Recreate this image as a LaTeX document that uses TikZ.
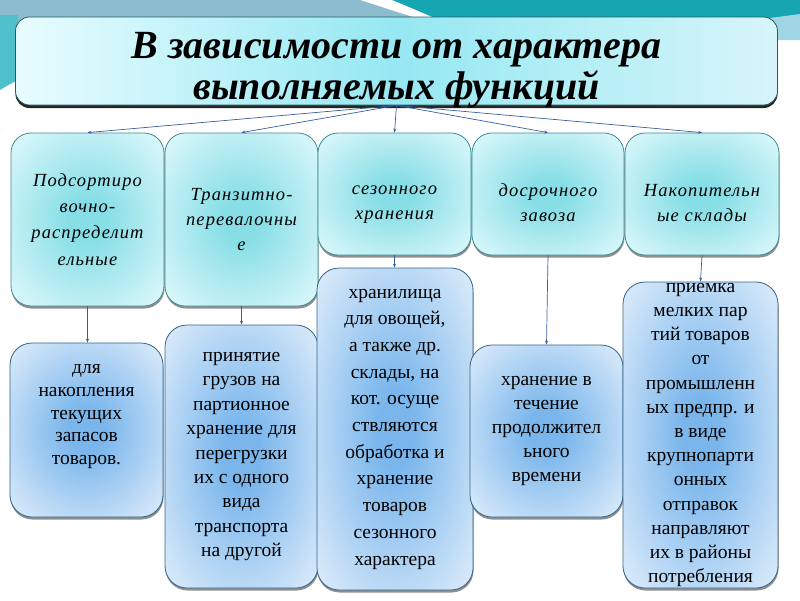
\documentclass[tikz,border=0pt]{standalone}
\usepackage{fontspec}
\setmainfont{Liberation Serif}
\usetikzlibrary{shadows,arrows.meta}
\definecolor{bgl}{RGB}{140,188,206}
\definecolor{bgteal}{RGB}{22,166,178}
\definecolor{bgside}{RGB}{80,192,204}
\definecolor{bgr}{RGB}{160,214,228}
\definecolor{titlel}{RGB}{232,252,255}
\definecolor{titlem}{RGB}{150,232,242}
\definecolor{titler}{RGB}{215,245,250}
\definecolor{titleb}{RGB}{40,90,95}
\definecolor{topin}{RGB}{135,222,230}
\definecolor{topout}{RGB}{226,250,252}
\definecolor{topborder}{RGB}{60,140,150}
\definecolor{botin}{RGB}{122,182,236}
\definecolor{botout}{RGB}{232,242,252}
\definecolor{botborder}{RGB}{50,100,140}
\definecolor{conncol}{RGB}{55,95,155}
\pgfdeclareradialshading{topshade}{\pgfpointorigin}{color(0bp)=(topin); color(6bp)=(topin); color(36bp)=(topout); color(50bp)=(topout)}
\pgfdeclareradialshading{botshade}{\pgfpointorigin}{color(0bp)=(botin); color(6bp)=(botin); color(38bp)=(botout); color(50bp)=(botout)}
\begin{document}
\begin{tikzpicture}[x=1pt,y=-1pt,
  titlebox/.style={draw=titleb, line width=0.8pt, rounded corners=14pt,
    left color=titlel, right color=titler, middle color=titlem,
    drop shadow={shadow xshift=0pt, shadow yshift=-3pt, opacity=0.85, fill=black},
    inner sep=0pt},
  titletext/.style={align=center, inner sep=0pt,
    font=\fontsize{40}{41}\selectfont\bfseries\itshape},
  topbox/.style={draw=topborder, line width=0.8pt, rounded corners=20pt,
    shading=topshade,
    drop shadow={shadow xshift=0.5pt, shadow yshift=-2.5pt, opacity=0.55, fill=black!80},
    align=center, inner sep=0pt,
    font=\fontsize{18.5}{25}\selectfont\itshape\addfontfeatures{LetterSpace=6}},
  botbox/.style={draw=botborder, line width=0.8pt, rounded corners=22pt,
    shading=botshade,
    drop shadow={shadow xshift=0.5pt, shadow yshift=-2.5pt, opacity=0.55, fill=black!80},
    align=center, inner sep=0pt,
    font=\fontsize{19.5}{24.2}\selectfont},
  conn/.style={draw=conncol, line width=0.7pt, -{Stealth[length=4pt,width=3pt]}}
]
\useasboundingbox (0,0) rectangle (800,600);
% background decoration
\fill[bgl] (0,0) -- (360,0) .. controls (385,8) and (405,15) .. (430,22) -- (0,22) -- cycle;
\fill[bgteal] (392,0) -- (800,0) -- (800,20) -- (440,20) .. controls (420,12) and (405,5) .. (392,0) -- cycle;
\fill[bgside] (0,15) -- (18,15) -- (18,80) .. controls (10,84) and (5,87) .. (0,90) -- cycle;
\fill[bgr] (770,18) -- (800,14) -- (800,40) -- (770,40) -- cycle;

% title
\node[titlebox, minimum width=762pt, minimum height=88pt] (title) at (396.5,61) {};
\node[titletext] (titlelabel) at (396.5,70)
  {В зависимости от характера\\выполняемых функций};

% top row
\node[topbox, minimum width=153pt, minimum height=173pt, font=\fontsize{18.5}{26.3}\selectfont\itshape\addfontfeatures{LetterSpace=6}] (t1) at (87.5,219.5)
  {Подсортиро\\вочно-\\распределит\\ельные};
\node[topbox, minimum width=153pt, minimum height=173pt] (t2) at (241.5,219.5)
  {Транзитно-\\перевалочны\\е};
\node[topbox, minimum width=153pt, minimum height=122pt] (t3) at (394.5,194)
  {\strut\\[-13pt]сезонного\\хранения};
\node[topbox, minimum width=152pt, minimum height=122pt] (t4) at (548,194)
  {\strut\\[-13pt]досрочного\\завоза};
\node[topbox, minimum width=154pt, minimum height=122pt] (t5) at (702,194)
  {\strut\\[-13pt]Накопительн\\ые склады};

% bottom row
\node[botbox, minimum width=153pt, minimum height=174pt, font=\fontsize{19.5}{22.9}\selectfont] (b1) at (86.5,430)
  {для\\накопления\\текущих\\запасов\\товаров.\\[1pt]\strut};
\node[botbox, minimum width=153pt, minimum height=263pt, font=\fontsize{19.5}{24.4}\selectfont] (b2) at (241.5,456.5)
  {принятие\\грузов на\\партионное\\хранение для\\перегрузки\\их с одного\\вида\\транспорта\\на другой};
\node[botbox, minimum width=156pt, minimum height=322pt, font=\fontsize{19.5}{26.7}\selectfont] (b3) at (395,429)
  {хранилища\\для овощей,\\а также др.\\склады, на\\кот. осуще\\ствляются\\обработка и\\хранение\\товаров\\сезонного\\характера};
\node[botbox, minimum width=153pt, minimum height=172pt] (b4) at (546.5,431)
  {хранение в\\течение\\продолжител\\ьного\\времени};
\node[botbox, minimum width=155pt, minimum height=306pt] (b5) at (700.5,435)
  {приемка\\мелких пар\\тий товаров\\от\\промышленн\\ых предпр. и\\в виде\\крупнопарти\\онных\\отправок\\направляют\\их в районы\\потребления};

% connectors
\foreach \t in {t1,t2,t3,t4,t5}{
  \draw[conn] (title.south) -- (\t.north);
}
\draw[conn] (t1.south) -- (t1.south |- b1.north);
\draw[conn] (t2.south) -- (t2.south |- b2.north);
\draw[conn] (t3.south) -- (t3.south |- b3.north);
\draw[conn] (t4.south) -- (b4.north);
\draw[conn] (t5.south) -- (b5.north);
\end{tikzpicture}
\end{document}
